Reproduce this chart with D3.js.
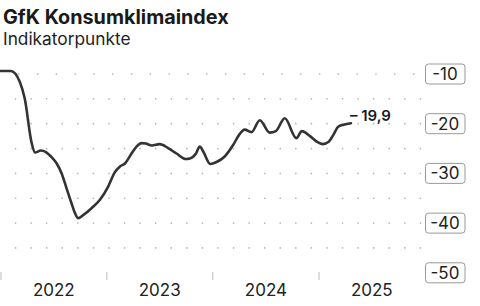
<!DOCTYPE html>
<html>
<head>
<meta charset="utf-8">
<script src="https://cdn.jsdelivr.net/npm/d3@7"></script>
<style>
  body { margin: 0; background: #fff; }
  svg { display: block; font-family: Inter, "Noto Sans", sans-serif; }
</style>
</head>
<body>
<div id="canvas"></div>
<script>
// readings of the GfK consumer climate line (date, points)
const dates = [
  "2021-12-01", "2022-02-04", "2022-03-07", "2022-03-24", "2022-04-16", "2022-04-28",
  "2022-05-18", "2022-06-05", "2022-06-24", "2022-07-12", "2022-07-29", "2022-08-15",
  "2022-09-01", "2022-09-13", "2022-09-24", "2022-10-11", "2022-11-09", "2022-12-08",
  "2023-01-05", "2023-01-28", "2023-02-15", "2023-03-04", "2023-03-27", "2023-04-13",
  "2023-05-01", "2023-05-15", "2023-06-05", "2023-07-02", "2023-07-31", "2023-08-29",
  "2023-09-30", "2023-10-14", "2023-11-04", "2023-11-17", "2023-11-29", "2023-12-23",
  "2024-01-14", "2024-02-11", "2024-03-11", "2024-03-31", "2024-04-20", "2024-05-13",
  "2024-06-11", "2024-07-15", "2024-08-05", "2024-09-05", "2024-10-15", "2024-11-03",
  "2024-12-01", "2024-12-24", "2025-01-15", "2025-02-02", "2025-02-19", "2025-03-08",
  "2025-03-27", "2025-04-21"
];
const values = [
  -9.4, -9.4, -11.6, -15.0, -23.7, -25.8,
  -25.4, -25.7, -26.7, -28.0, -30.0, -33.0,
  -36.0, -38.0, -39.0, -38.4, -37.0, -35.3,
  -32.7, -29.8, -28.6, -28.0, -26.0, -24.6,
  -23.9, -24.0, -24.4, -24.1, -24.9, -26.0,
  -27.1, -27.0, -26.0, -24.6, -25.6, -28.1,
  -27.7, -26.6, -24.3, -22.3, -21.2, -21.7,
  -19.3, -21.8, -21.5, -18.9, -22.9, -21.5,
  -22.5, -23.6, -24.1, -23.7, -22.3, -20.6,
  -20.2, -19.9
];
const years = [2022, 2023, 2024, 2025];
const yTicks = [-10, -20, -30, -40, -50];
const gridValues = [-10, -15, -20, -25, -30, -35, -40, -45];

const title = "GfK Konsumklimaindex";
const subtitle = "Indikatorpunkte";

const width = 480;
const height = 306;

const parse = d3.utcParse("%Y-%m-%d");
const data = dates.map((d, i) => ({ date: parse(d), value: values[i] }));

const svg = d3.select("#canvas").append("svg")
  .attr("width", width)
  .attr("height", height);

const x = d3.scaleUtc()
  .domain([new Date(Date.UTC(2022, 0, 1)), new Date(Date.UTC(2025, 0, 1))])
  .range([1, 319]);

const y = d3.scaleLinear()
  .domain([-50, -10])
  .range([272.8, 74]);

// titles
svg.append("text")
  .attr("x", 3)
  .attr("y", 24.3)
  .style("font-size", "19.8px")
  .style("font-weight", 700)
  .style("fill", "#1a1a1a")
  .text(title);

svg.append("text")
  .attr("x", 3)
  .attr("y", 45.3)
  .style("font-size", "17.3px")
  .style("fill", "#222")
  .text(subtitle);

// dotted grid
gridValues.forEach(v => {
  const step = v === -10 ? 18.8 : 15.57;
  svg.append("line")
    .attr("x1", step)
    .attr("x2", 423)
    .attr("y1", y(v))
    .attr("y2", y(v))
    .attr("stroke", "#b5b5b5")
    .attr("stroke-width", 1.7)
    .attr("stroke-linecap", "round")
    .attr("stroke-dasharray", `0,${step}`);
});

// x axis: year ticks and labels
const xAxis = svg.append("g").attr("class", "x--axis");
years.forEach(yr => {
  xAxis.append("line")
    .attr("x1", x(new Date(Date.UTC(yr, 0, 1))))
    .attr("x2", x(new Date(Date.UTC(yr, 0, 1))))
    .attr("y1", 272)
    .attr("y2", 280)
    .attr("stroke", "#bbb")
    .attr("stroke-width", 1);
  xAxis.append("text")
    .attr("x", x(new Date(Date.UTC(yr, 6, 2))))
    .attr("y", 296)
    .attr("text-anchor", "middle")
    .style("font-size", "17px")
    .style("fill", "#222")
    .text(yr);
});

// y axis labels in boxes
const yAxis = svg.append("g").attr("class", "y--axis");
yTicks.forEach(v => {
  yAxis.append("rect")
    .attr("x", 425.5)
    .attr("y", y(v) - 10)
    .attr("width", 39.5)
    .attr("height", 20)
    .attr("rx", 3)
    .attr("fill", "#fff")
    .attr("stroke", "#999")
    .attr("stroke-width", 1);
  yAxis.append("text")
    .attr("x", 445)
    .attr("y", y(v) + 6)
    .attr("text-anchor", "middle")
    .style("font-size", "17px")
    .style("fill", "#222")
    .text(v);
});

// line
const line = d3.line()
  .x(d => x(d.date))
  .y(d => y(d.value))
  .curve(d3.curveMonotoneX);

svg.append("path")
  .datum(data)
  .attr("d", line)
  .attr("fill", "none")
  .attr("stroke", "#333")
  .attr("stroke-width", 2.6)
  .attr("stroke-linejoin", "round")
  .attr("stroke-linecap", "round");

// end label
const last = data[data.length - 1];
svg.append("text")
  .attr("x", x(last.date) - 1)
  .attr("y", y(last.value) - 2)
  .style("font-size", "15px")
  .style("font-weight", 600)
  .style("fill", "#1a1a1a")
  .text("– " + Math.abs(last.value).toFixed(1).replace(".", ","));
</script>
</body>
</html>
